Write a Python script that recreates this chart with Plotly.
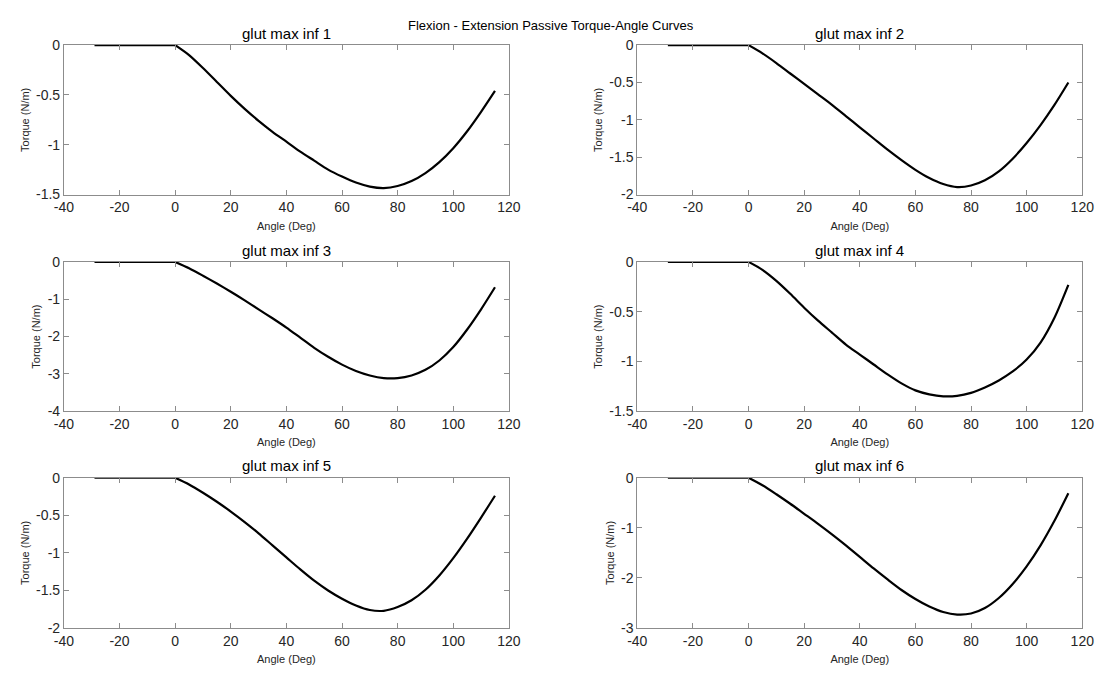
import plotly.graph_objects as go

# ---- data ----
angle_flat = [-29, 0]
angles = [0, 5, 10, 15, 20, 25, 30, 35, 40, 45, 50, 55, 60, 65, 70, 75, 80, 85, 90, 95, 100, 105, 110, 115]

torque_1 = [0, -0.10, -0.23, -0.37, -0.51, -0.64, -0.76, -0.87, -0.97, -1.07, -1.16, -1.25, -1.32, -1.38, -1.42, -1.435,
            -1.415, -1.365, -1.285, -1.175, -1.035, -0.865, -0.67, -0.46]
torque_2 = [0, -0.11, -0.24, -0.38, -0.52, -0.66, -0.80, -0.95, -1.10, -1.25, -1.40, -1.54, -1.67, -1.78, -1.86, -1.90,
            -1.88, -1.81, -1.69, -1.52, -1.31, -1.07, -0.80, -0.50]
torque_3 = [0, -0.17, -0.37, -0.58, -0.80, -1.03, -1.27, -1.51, -1.76, -2.03, -2.30, -2.54, -2.75, -2.92, -3.04, -3.11,
            -3.11, -3.04, -2.89, -2.64, -2.28, -1.81, -1.27, -0.68]
torque_4 = [0, -0.08, -0.19, -0.32, -0.46, -0.59, -0.71, -0.83, -0.93, -1.03, -1.13, -1.22, -1.29, -1.33, -1.35, -1.345,
            -1.315, -1.26, -1.19, -1.10, -0.98, -0.81, -0.56, -0.23]
torque_5 = [0, -0.09, -0.20, -0.32, -0.45, -0.59, -0.74, -0.90, -1.06, -1.22, -1.37, -1.50, -1.61, -1.70, -1.76, -1.77,
            -1.72, -1.63, -1.49, -1.30, -1.07, -0.81, -0.53, -0.24]
torque_6 = [0, -0.15, -0.33, -0.52, -0.72, -0.92, -1.13, -1.35, -1.58, -1.81, -2.03, -2.24, -2.42, -2.57, -2.68, -2.73,
            -2.71, -2.60, -2.40, -2.12, -1.77, -1.35, -0.86, -0.31]

titles = ["glut max inf 1", "glut max inf 2", "glut max inf 3",
          "glut max inf 4", "glut max inf 5", "glut max inf 6"]
series = [torque_1, torque_2, torque_3, torque_4, torque_5, torque_6]

x_ticks = [-40, -20, 0, 20, 40, 60, 80, 100, 120]
y_ticks = [
    [0, -0.5, -1, -1.5],
    [0, -0.5, -1, -1.5, -2],
    [0, -1, -2, -3, -4],
    [0, -0.5, -1, -1.5],
    [0, -0.5, -1, -1.5, -2],
    [0, -1, -2, -3],
]

suptitle = "Flexion - Extension Passive Torque-Angle Curves"
x_label = "Angle (Deg)"
y_label = "Torque (N/m)"

# ---- layout geometry ----
W, H = 1107, 681
col_px = [(55, 509), (640, 1094)]
row_px = [(38, 191), (260, 413), (481, 635)]


def fmt(v):
    return "%g" % v


FONT = "Liberation Sans, Arial, sans-serif"
AX_GRAY = "#8c8c8c"
TXT = "#262626"

fig = go.Figure()
layout = dict(
    width=W, height=H,
    margin=dict(l=0, r=0, t=0, b=0),
    paper_bgcolor="white", plot_bgcolor="white",
    showlegend=False,
    font=dict(family=FONT, color=TXT),
    annotations=[],
)

for i in range(6):
    r, c = divmod(i, 2)
    n = i + 1
    xa = "x" if n == 1 else f"x{n}"
    ya = "y" if n == 1 else f"y{n}"
    fig.add_trace(go.Scatter(x=angle_flat, y=[0, 0], mode="lines",
                             line=dict(color="black", width=2.2),
                             xaxis=xa, yaxis=ya, hoverinfo="skip"))
    fig.add_trace(go.Scatter(x=angles, y=series[i], mode="lines",
                             line=dict(color="black", width=2.2, shape="spline", smoothing=0.8),
                             xaxis=xa, yaxis=ya, hoverinfo="skip"))
    x0, x1 = col_px[c]
    y0, y1 = row_px[r]
    yt = y_ticks[i]
    common = dict(showline=True, linecolor=AX_GRAY, linewidth=1, mirror="ticks", ticks="inside",
                  ticklen=5, tickcolor=AX_GRAY, tickwidth=1, showgrid=False, zeroline=False,
                  tickfont=dict(family=FONT, size=14, color=TXT), fixedrange=True)
    layout["xaxis" if n == 1 else f"xaxis{n}"] = dict(
        domain=[x0 / W, x1 / W], range=[-40, 120], anchor=ya,
        tickvals=x_ticks, ticktext=[fmt(v) for v in x_ticks],
        title=dict(text=x_label, font=dict(family=FONT, size=11, color=TXT), standoff=7),
        **common)
    layout["yaxis" if n == 1 else f"yaxis{n}"] = dict(
        domain=[1 - y1 / H, 1 - y0 / H], range=[min(yt), max(yt)], anchor=xa,
        tickvals=yt, ticktext=[fmt(v) for v in yt],
        title=dict(text=y_label, font=dict(family=FONT, size=11, color=TXT), standoff=4),
        **common)
    layout["annotations"].append(dict(
        text=titles[i], x=(x0 + x1) / 2 / W, y=1 - (y0 - 12) / H, xref="paper", yref="paper",
        xanchor="center", yanchor="middle", showarrow=False,
        font=dict(family=FONT, size=15, color="black")))

layout["annotations"].append(dict(
    text=suptitle, x=552 / W, y=1 - 18 / H, xref="paper", yref="paper",
    xanchor="center", yanchor="middle", showarrow=False,
    font=dict(family=FONT, size=13, color="black")))

fig.update_layout(**layout)
fig.write_html("out.html")
